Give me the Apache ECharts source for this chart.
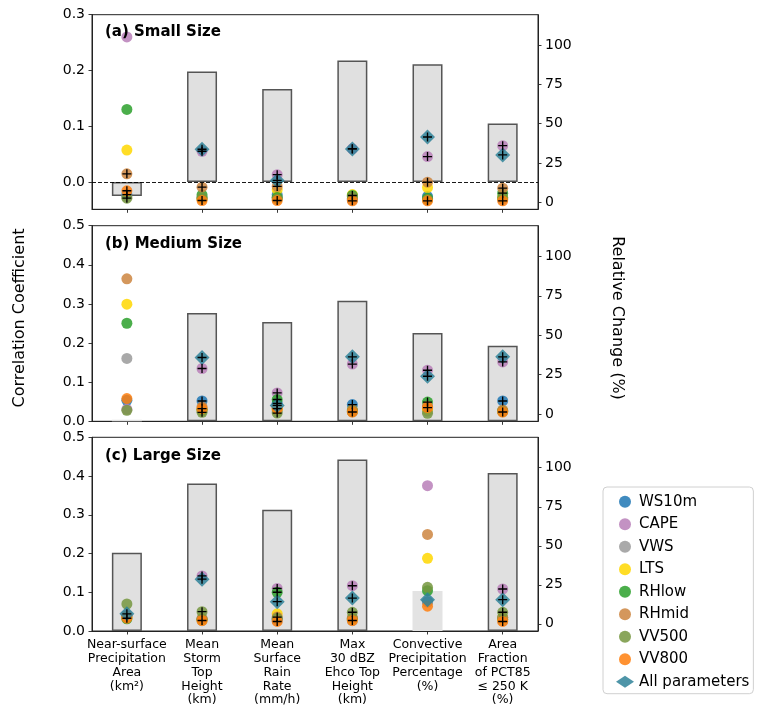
<!DOCTYPE html>
<html>
<head>
<meta charset="utf-8">
<script src="https://cdn.jsdelivr.net/npm/echarts@6/dist/echarts.min.js"></script>
<style>html,body{margin:0;padding:0;background:#fff;}#c{width:758px;height:707px;}</style>
</head>
<body>
<div id="c"></div>
<script>
// ---------------- DATA ----------------
const categories = [
  'Near-surface\nPrecipitation\nArea\n(km²)',
  'Mean\nStorm\nTop\nHeight\n(km)',
  'Mean\nSurface\nRain\nRate\n(mm/h)',
  'Max\n30 dBZ\nEhco Top\nHeight\n(km)',
  'Convective\nPrecipitation\nPercentage\n(%)',
  'Area\nFraction\nof PCT85\n≤ 250 K\n(%)'
];
const params = ['WS10m','CAPE','VWS','LTS','RHlow','RHmid','VV500','VV800','All parameters'];
const panelTitles = ['(a) Small Size','(b) Medium Size','(c) Large Size'];

// Correlation coefficient bars (left axis)
const smallBars  = [-0.025, 0.198, 0.167, 0.218, 0.211, 0.105];
const mediumBars = [0.004, 0.277, 0.254, 0.308, 0.226, 0.193];
const largeBars  = [0.202, 0.381, 0.313, 0.443, 0.103, 0.408];
// bar significance (1 = outlined)
const smallBarSig  = [1,1,1,1,1,1];
const mediumBarSig = [0,1,1,1,1,1];
const largeBarSig  = [1,1,1,1,0,1];

// Relative change (%) points (right axis), rows follow params order
const smallPoints = [
  [4.8, 2.5, 4.6, 1.5, 3.6, 2.0],
  [105.3, 32.4, 17.5, 34.0, 29.0, 36.0],
  [3.5, 2.0, 3.0, 1.5, 2.0, 2.0],
  [33.2, 2.0, 7.8, 4.8, 9.3, 3.0],
  [59.1, 4.6, 3.0, 4.2, 2.5, 5.7],
  [18.0, 9.5, 10.0, 2.5, 12.7, 8.9],
  [2.5, 3.0, 2.0, 3.5, 1.5, 3.0],
  [7.2, 1.0, 1.0, 0.8, 0.8, 0.8],
  [null, 33.7, 13.8, 33.9, 41.5, 30.1]
];
const mediumPoints = [
  [8.7, 8.3, 6.8, 6.0, 4.0, 8.3],
  [3.0, 28.9, 13.4, 31.7, 27.8, 33.1],
  [35.3, 2.0, 2.0, 1.5, 2.0, 2.0],
  [69.7, 2.5, 3.0, 2.0, 3.0, 2.0],
  [57.6, 3.0, 9.2, 2.5, 7.6, 2.0],
  [85.8, 4.5, 4.0, 2.5, 5.0, 2.5],
  [2.4, 1.1, 0.6, 1.5, 0.5, 1.5],
  [9.8, 3.4, 3.4, 1.3, 4.1, 1.3],
  [null, 35.9, 5.5, 36.3, 24.0, 36.3]
];
const largePoints = [
  [5.0, 3.0, 3.0, 3.0, 14.0, 3.0],
  [5.5, 30.7, 22.7, 24.4, 88.5, 22.3],
  [4.5, 2.0, 2.0, 2.0, 14.0, 2.0],
  [4.0, 2.5, 6.4, 3.0, 42.0, 3.0],
  [3.2, 3.0, 20.2, 3.5, 21.2, 4.0],
  [5.0, 3.5, 4.3, 4.0, 57.3, 4.0],
  [12.7, 7.8, 3.5, 7.4, 23.4, 7.4],
  [3.6, 2.1, 1.5, 2.1, 11.3, 1.5],
  [6.4, 28.6, 14.2, 16.5, 15.5, 15.5]
];
// significance markers (+)
const smallSig = [
  [1,0,0,0,0,0],[0,1,1,1,1,1],[0,0,0,0,0,0],[0,0,0,0,0,0],[0,0,0,1,0,1],
  [1,1,1,0,1,1],[1,0,0,0,0,0],[1,1,1,1,1,1],[0,1,1,1,1,1]
];
const mediumSig = [
  [0,1,1,1,0,1],[0,1,1,1,1,1],[0,0,0,0,0,0],[0,0,0,0,0,0],[0,0,1,0,1,0],
  [0,0,0,0,0,0],[0,1,1,0,0,0],[0,1,1,1,1,1],[0,1,1,1,1,1]
];
const largeSig = [
  [0,0,0,0,0,0],[0,1,1,1,0,1],[0,0,0,0,0,0],[0,0,0,0,0,0],[0,0,1,0,0,0],
  [0,0,1,0,0,0],[0,1,0,1,0,1],[1,1,1,1,0,1],[1,1,1,1,0,1]
];
const leftTicksA = [0, 0.1, 0.2, 0.3];
const leftTicksBC = [0, 0.1, 0.2, 0.3, 0.4, 0.5];
const rightTicks = [0, 25, 50, 75, 100];
const catIdx = [0,1,2,3,4,5];

// ---------------- STYLE ----------------
const colors = ['#1f77b4','#b97fb9','#9a9a9a','#ffd700','#2ca02c','#cd853f','#76963f','#ff7f0e','#2f8299'];
const FONT = 'DejaVu Sans';
const gridTops = [14.7, 225.7, 437.3];
const gridBottoms = [209.3, 421.3, 632.3];
const bars = [smallBars, mediumBars, largeBars];
const barSig = [smallBarSig, mediumBarSig, largeBarSig];
const points = [smallPoints, mediumPoints, largePoints];
const sigs = [smallSig, mediumSig, largeSig];
const PLUS = 'path://M0.85,0H1.15V0.85H2V1.15H1.15V2H0.85V1.15H0V0.85H0.85Z';

const grids = [], xAxes = [], yAxes = [], series = [];
for (let p = 0; p < 3; p++) {
  grids.push({left: 92, width: 446, top: gridTops[p], height: gridBottoms[p] - gridTops[p],
    show: true, borderColor: '#222', borderWidth: 1, backgroundColor: 'transparent', containLabel: false});
  xAxes.push({type: 'value', gridIndex: p, min: -0.464, max: 5.47,
    splitLine: {show: false},
    axisLine: {show: true, onZero: false, lineStyle: {color: '#222', width: 1}},
    axisTick: {show: true, customValues: catIdx, length: 3.5, lineStyle: {color: '#222', width: 0.9}},
    axisLabel: p === 2 ? {show: true, customValues: catIdx, formatter: v => categories[Math.round(v)],
      fontFamily: FONT, fontSize: 12.5, lineHeight: 13.8, color: '#000', margin: 7, align: 'center', verticalAlign: 'top'} : {show: false}
  });
}
for (let p = 0; p < 3; p++) {
  const ticks = p === 0 ? leftTicksA : leftTicksBC;
  yAxes.push({type: 'value', gridIndex: p, position: 'left',
    min: p === 0 ? -0.0488 : 0, max: p === 0 ? 0.3 : 0.5,
    splitLine: {show: false},
    axisLine: {show: true, onZero: false, lineStyle: {color: '#222', width: 1}},
    axisTick: {show: true, customValues: ticks, length: 3.5, lineStyle: {color: '#222', width: 0.9}},
    axisLabel: {show: true, customValues: ticks, formatter: v => v.toFixed(1), fontFamily: FONT, fontSize: 14, color: '#000', margin: 7}
  });
}
for (let p = 0; p < 3; p++) {
  yAxes.push({type: 'value', gridIndex: p, position: 'right', min: -4.6, max: 119.5,
    splitLine: {show: false},
    axisLine: {show: true, onZero: false, lineStyle: {color: '#222', width: 1}},
    axisTick: {show: true, customValues: rightTicks, length: 3.5, lineStyle: {color: '#222', width: 0.9}},
    axisLabel: {show: true, customValues: rightTicks, formatter: v => String(Math.round(v)), fontFamily: FONT, fontSize: 14, color: '#000', margin: 7}
  });
}

for (let p = 0; p < 3; p++) {
  const barSeries = {
    type: 'bar', name: 'bars' + p, xAxisIndex: p, yAxisIndex: p, barWidth: 30, z: 1, silent: true,
    data: bars[p].map((v, i) => ({value: [i, v], itemStyle: barSig[p][i]
      ? {color: '#e0e0e0', borderColor: '#555', borderWidth: 1.5}
      : {color: '#e3e3e3', borderWidth: 0}}))
  };
  if (p === 0) {
    barSeries.markLine = {silent: true, symbol: ['none','none'], label: {show: false},
      lineStyle: {color: '#000', type: [4, 2], width: 0.9}, data: [{yAxis: 0}]};
  }
  series.push(barSeries);
  for (let k = 0; k < params.length; k++) {
    const isAll = k === params.length - 1;
    const data = [];
    points[p][k].forEach((v, i) => { if (v !== null) data.push([i, v]); });
    series.push({type: 'scatter', name: params[k], xAxisIndex: p, yAxisIndex: 3 + p,
      symbol: isAll ? 'diamond' : 'circle', symbolSize: isAll ? 15 : 11, z: isAll ? 3 : 2,
      itemStyle: {color: colors[k], opacity: 0.85}, data: data});
  }
  const plusData = [];
  for (let k = 0; k < params.length; k++) {
    points[p][k].forEach((v, i) => { if (v !== null && sigs[p][k][i]) plusData.push([i, v]); });
  }
  series.push({type: 'scatter', name: 'sig' + p, xAxisIndex: p, yAxisIndex: 3 + p, symbol: PLUS,
    symbolSize: 9, z: 4, silent: true, itemStyle: {color: '#000', opacity: 1}, data: plusData});
}

const graphics = [
  {type: 'text', x: 20, y: 318, rotation: Math.PI / 2,
    style: {text: 'Correlation Coefficient', font: '16px "DejaVu Sans"', fill: '#000', align: 'center', verticalAlign: 'middle'}},
  {type: 'text', x: 617, y: 318, rotation: -Math.PI / 2,
    style: {text: 'Relative Change (%)', font: '16px "DejaVu Sans"', fill: '#000', align: 'center', verticalAlign: 'middle'}}
];
const titleY = [32, 244.3, 455.7];
for (let p = 0; p < 3; p++) {
  graphics.push({type: 'text', x: 105, y: titleY[p], z: 10,
    style: {text: panelTitles[p], font: 'bold 15px "DejaVu Sans"', fill: '#000', align: 'left', verticalAlign: 'middle'}});
}

const chart = echarts.init(document.getElementById('c'), null, {renderer: 'canvas'});
chart.setOption({
  animation: false,
  backgroundColor: '#fff',
  grid: grids, xAxis: xAxes, yAxis: yAxes, series: series, graphic: graphics,
  legend: {
    show: true, orient: 'vertical', left: 603, top: 487,
    padding: [6.7, 4, 4, 13], itemGap: 6.5, itemWidth: 18, itemHeight: 12,
    borderColor: '#d0d0d0', borderWidth: 1, borderRadius: 4, backgroundColor: '#fff',
    textStyle: {fontFamily: FONT, fontSize: 15, color: '#000', lineHeight: 16},
    data: params.map((n, k) => ({name: n, icon: k === params.length - 1 ? 'diamond' : 'circle'}))
  }
});
</script>
</body>
</html>
